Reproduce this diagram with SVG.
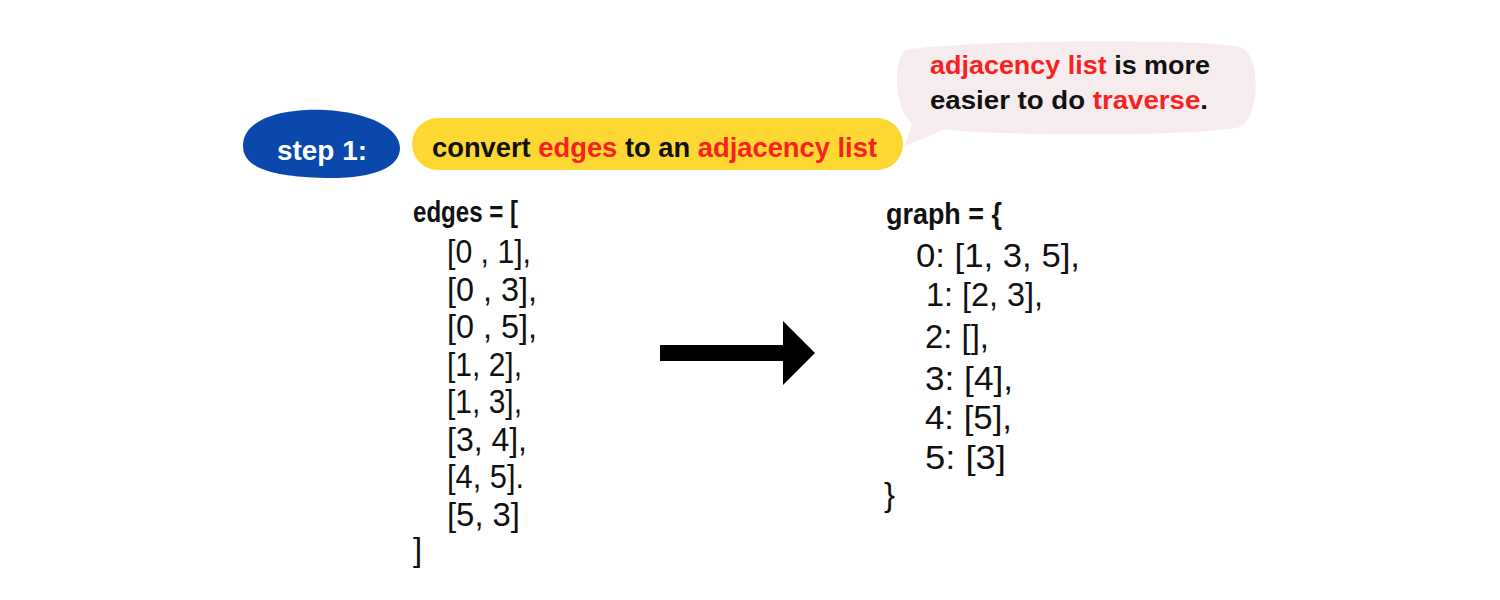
<svg xmlns="http://www.w3.org/2000/svg" width="1500" height="600" viewBox="0 0 1500 600">
  <style>
    .hand { font-family: "Liberation Sans", Arial, sans-serif; }
    .bold { font-weight: bold; }
    .code { font-family: "Liberation Sans", Arial, sans-serif; font-size: 33px; fill: #111; }
    .head { font-family: "Liberation Sans", Arial, sans-serif; font-size: 29px; font-weight: bold; fill: #111; }
    .red { fill: #fa2020; }
    .blk { fill: #111; }
  </style>
  <rect width="1500" height="600" fill="#ffffff"/>

  <g id="step-badge">
    <path d="M 243,146 C 243,118 285,108 325,110 C 368,112 400,128 400,148 C 400,168 372,179 325,178 C 278,177 243,170 243,146 Z" fill="#0a49ab"/>
    <text x="277" y="160" class="hand bold" font-size="28" fill="#ffffff" textLength="90" lengthAdjust="spacingAndGlyphs">step 1:</text>
  </g>

  <g id="title-pill">
    <rect x="412" y="118" width="491" height="52" rx="26" ry="26" fill="#fdd833"/>
    <text x="432" y="157" class="hand bold" font-size="28" textLength="445" lengthAdjust="spacingAndGlyphs"><tspan class="blk">convert </tspan><tspan class="red">edges</tspan><tspan class="blk"> to an </tspan><tspan class="red">adjacency list</tspan></text>
  </g>

  <g id="speech-bubble">
    <path d="M 905,50 C 960,40 1200,38 1240,47 C 1262,54 1260,118 1240,127 C 1200,137 985,136 945,129 L 905,146 L 912,123 C 895,112 892,62 905,50 Z" fill="#f6eced"/>
    <text x="930" y="74" class="hand bold" font-size="26" textLength="280" lengthAdjust="spacingAndGlyphs"><tspan class="red">adjacency list</tspan><tspan class="blk"> is more</tspan></text>
    <text x="930" y="109" class="hand bold" font-size="26" textLength="278" lengthAdjust="spacingAndGlyphs"><tspan class="blk">easier to do </tspan><tspan class="red">traverse</tspan><tspan class="blk">.</tspan></text>
  </g>

  <g id="edges-list">
    <text x="413" y="222" class="head" textLength="105" lengthAdjust="spacingAndGlyphs">edges = [</text>
    <text x="447" y="263" class="code" textLength="84" lengthAdjust="spacingAndGlyphs">[0 , 1],</text>
    <text x="447" y="301" class="code" textLength="90" lengthAdjust="spacingAndGlyphs">[0 , 3],</text>
    <text x="447" y="338" class="code" textLength="90" lengthAdjust="spacingAndGlyphs">[0 , 5],</text>
    <text x="447" y="376" class="code" textLength="75" lengthAdjust="spacingAndGlyphs">[1, 2],</text>
    <text x="447" y="413" class="code" textLength="75" lengthAdjust="spacingAndGlyphs">[1, 3],</text>
    <text x="447" y="451" class="code" textLength="80" lengthAdjust="spacingAndGlyphs">[3, 4],</text>
    <text x="447" y="488" class="code" textLength="77" lengthAdjust="spacingAndGlyphs">[4, 5].</text>
    <text x="447" y="526" class="code" textLength="73" lengthAdjust="spacingAndGlyphs">[5, 3]</text>
    <text x="413" y="561" class="code">]</text>
  </g>

  <g id="connectors">
    <polygon points="660,345 783,345 783,321 815,353 783,385 783,361 660,361" fill="#000000"/>
  </g>

  <g id="graph-dict">
    <text x="886" y="224" class="head" textLength="116" lengthAdjust="spacingAndGlyphs">graph = {</text>
    <text x="916" y="267" class="code" textLength="164" lengthAdjust="spacingAndGlyphs">0: [1, 3, 5],</text>
    <text x="926" y="306" class="code" textLength="117" lengthAdjust="spacingAndGlyphs">1: [2, 3],</text>
    <text x="925" y="348" class="code" textLength="64" lengthAdjust="spacingAndGlyphs">2: [],</text>
    <text x="925" y="390" class="code" textLength="88" lengthAdjust="spacingAndGlyphs">3: [4],</text>
    <text x="925" y="429" class="code" textLength="87" lengthAdjust="spacingAndGlyphs">4: [5],</text>
    <text x="925" y="469" class="code" textLength="81" lengthAdjust="spacingAndGlyphs">5: [3]</text>
    <text x="884" y="506" class="code">}</text>
  </g>
</svg>
